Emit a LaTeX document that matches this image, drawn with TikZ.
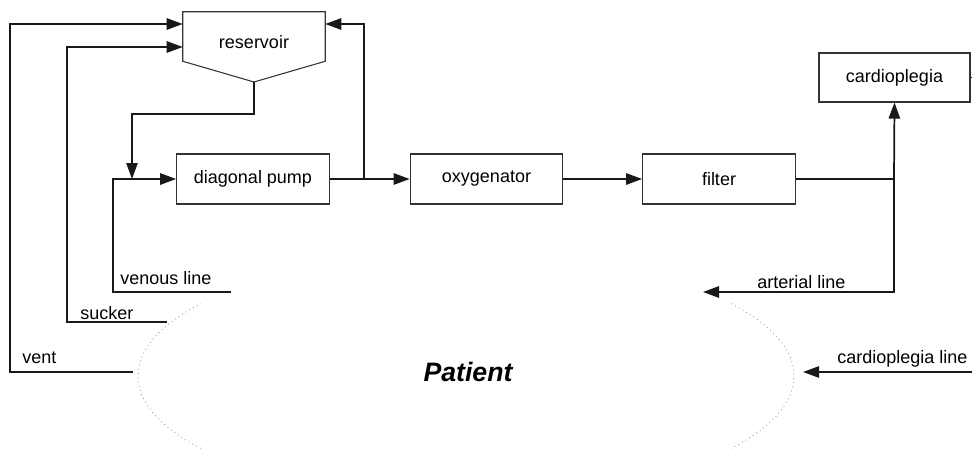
\documentclass[tikz,border=0pt]{standalone}
\usepackage{fontspec}
\setmainfont{Liberation Sans}
\usetikzlibrary{arrows.meta}

\tikzset{
  unit/.style={draw=black!80, line width=0.8pt, minimum width=114.5pt, minimum height=37.5pt, inner sep=0pt, font=\fontsize{13.5}{16}\selectfont},
  flow/.style={draw=black!90, line width=1.3pt},
  feed/.style={flow, -{Triangle[length=12pt,width=8.5pt]}},
  tag/.style={inner sep=0pt, font=\fontsize{13.5}{16}\selectfont},
  rim/.style={draw=black!45, line width=0.6pt, dash pattern=on 0.6pt off 2.6pt}
}

\begin{document}
\begin{tikzpicture}[x=0.75pt,y=0.75pt,yscale=-1,xscale=1]
    \useasboundingbox (0,0) rectangle (972,450);

    %Shape: Reservoir
    \node [minimum width=106.5pt, minimum height=36.75pt, inner sep=0pt] (res) at (254,36.5) {};
    \draw [black!80, line width=0.8pt] (res.north west) -- (res.north east) -- (res.south east) -- (254,82) -- (res.south west) -- cycle ;
    \coordinate (resout) at (254,82);
    % Text Node
    \node [tag] (reslabel) at (254,42) {reservoir};

    %Shape: Boxes
    \node [unit] (pump) at (253,179) {diagonal pump};
    \node [unit] (oxy) at (486.5,179) {oxygenator};
    \node [unit] (filter) at (719,179) {filter};
    \node [unit, minimum width=113.25pt, minimum height=36.75pt] (cardio) at (894.5,77.5) {cardioplegia};

    %Ends of the lines at the patient
    \coordinate (vent) at (133,372);
    \coordinate (ventup) at (10,24);
    \coordinate (sucker) at (167,322);
    \coordinate (suckup) at (67,47);
    \coordinate (venous) at (231,292);
    \coordinate (venup) at (113,179);
    \coordinate (resdrop) at (132,114);
    \coordinate (bypass) at (364,179);
    \coordinate (split) at (894,179);
    \coordinate (arterial) at (703,292);
    \coordinate (cpin) at (972,372);
    \coordinate (cpout) at (803,372);
    \coordinate (cpstub) at (972,77.5);

    %Straight Lines
    \draw [feed] (vent) -| (ventup) -- (res.west |- ventup) ;
    \draw [feed] (sucker) -| (suckup) -- (res.west |- suckup) ;
    \draw [feed] (venous) -| (venup) -- (pump.west) ;
    \draw [feed] (resout) |- (resdrop) -- (resdrop |- pump.west) ;
    \draw [feed] (pump.east) -- (oxy.west) ;
    \draw [feed] (bypass) |- (res.east |- ventup) ;
    \draw [feed] (oxy.east) -- (filter.west) ;
    \draw [flow] (filter.east) -- (split) ;
    \draw [feed] (split) -- (cardio.south) ;
    \draw [feed] (split) |- (arterial) ;
    \draw [feed] (cpin) -- (cpout) ;
    \draw [flow] (cardio.east) -- (cpstub) ;

    %Shape: Patient outline
    \draw [rim] (466,376) ++(144:328 and 123) arc [start angle=144, end angle=216, x radius=328, y radius=123] ;
    \draw [rim] (466,376) ++(-36:328 and 123) arc [start angle=-36, end angle=36, x radius=328, y radius=123] ;

    % Text Node
    \node [tag, anchor=base west] (ventlabel) at (22,363) {vent};
    % Text Node
    \node [tag, anchor=base west] (sucklabel) at (80,319) {sucker};
    % Text Node
    \node [tag, anchor=base west] (venlabel) at (120,284) {venous line};
    % Text Node
    \node [tag, anchor=base west] (artlabel) at (757,288) {arterial line};
    % Text Node
    \node [tag, anchor=base west] (cplabel) at (837,363) {cardioplegia line};
    % Text Node
    \node [inner sep=0pt, font=\fontsize{20}{24}\selectfont\bfseries\itshape] (patient) at (468,372) {Patient};

\end{tikzpicture}
\end{document}
